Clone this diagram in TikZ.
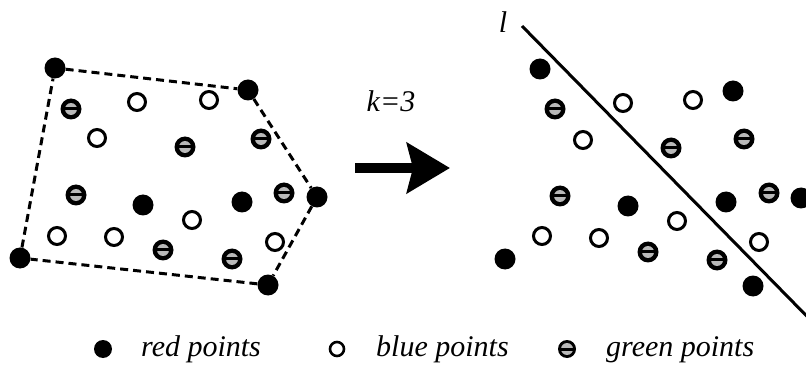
\documentclass[tikz,border=0pt]{standalone}
\usepackage{fontspec}
\setmainfont{Liberation Serif}
\usetikzlibrary{arrows.meta}
\tikzset{
  redpt/.style={circle,fill=black,minimum size=21pt,inner sep=0pt},
  bluept/.style={circle,draw=black,fill=white,line width=3pt,minimum size=17pt,inner sep=0pt},
  greenpt/.style={circle,fill=black,minimum size=21pt,inner sep=0pt,
    path picture={
      \fill[gray!55] (path picture bounding box.center) circle (6pt);
      \fill[black] ([xshift=-7pt,yshift=-1.5pt]path picture bounding box.center)
        rectangle ([xshift=7pt,yshift=1.5pt]path picture bounding box.center);
    }},
  hull/.style={line width=3pt,dash pattern=on 8pt off 5pt},
  sepline/.style={line width=3pt},
  lbl/.style={font=\fontsize{30pt}{32pt}\selectfont\itshape,inner sep=0pt},
}
\begin{document}
\begin{tikzpicture}[x=1pt,y=-1pt]
\useasboundingbox (0,0) rectangle (806,374);
\clip (0,0) rectangle (806,374);
% ---------- left panel ----------
\node[redpt] (A) at (55,68) {};
\node[redpt] (B) at (248,90) {};
\node[redpt] (C) at (317,197) {};
\node[redpt] (D) at (268,285) {};
\node[redpt] (E) at (20,258) {};
\draw[hull] (A) -- (B) -- (C) -- (D) -- (E) -- (A);
\node[redpt] (lr1) at (143,205) {};
\node[redpt] (lr2) at (242,202) {};
\node[bluept] (lb1) at (137,102) {};
\node[bluept] (lb2) at (209,100) {};
\node[bluept] (lb3) at (97,138) {};
\node[bluept] (lb4) at (192,220) {};
\node[bluept] (lb5) at (57,236) {};
\node[bluept] (lb6) at (114,237) {};
\node[bluept] (lb7) at (275,242) {};
\node[greenpt] (lg1) at (71,109) {};
\node[greenpt] (lg2) at (185,147) {};
\node[greenpt] (lg3) at (261,139) {};
\node[greenpt] (lg4) at (76,195) {};
\node[greenpt] (lg5) at (284,193) {};
\node[greenpt] (lg6) at (163,250) {};
\node[greenpt] (lg7) at (232,259) {};
% ---------- arrow ----------
\node[lbl,anchor=base] (k) at (391,112) {k=3};
\coordinate (as) at (355,168);
\coordinate (ae) at (450,168);
\draw[line width=10pt,-{Stealth[length=43pt 0,width=50pt 0,inset=6pt 0]}] (as) -- (ae);
% ---------- right panel ----------
\node[lbl,anchor=base] (l) at (503,33) {l};
\coordinate (ls) at (522,26);
\coordinate (le) at (840,350);
\draw[sepline] (ls) -- (le);
\node[redpt] (rr1) at (540,69) {};
\node[redpt] (rr2) at (733,91) {};
\node[redpt] (rr3) at (801,198) {};
\node[redpt] (rr4) at (726,202) {};
\node[redpt] (rr5) at (628,206) {};
\node[redpt] (rr6) at (505,259) {};
\node[redpt] (rr7) at (753,286) {};
\node[bluept] (rb1) at (623,103) {};
\node[bluept] (rb2) at (693,100) {};
\node[bluept] (rb3) at (583,140) {};
\node[bluept] (rb4) at (677,221) {};
\node[bluept] (rb5) at (542,236) {};
\node[bluept] (rb6) at (599,238) {};
\node[bluept] (rb7) at (759,242) {};
\node[greenpt] (rg1) at (555,109) {};
\node[greenpt] (rg2) at (671,148) {};
\node[greenpt] (rg3) at (744,139) {};
\node[greenpt] (rg4) at (560,196) {};
\node[greenpt] (rg5) at (769,193) {};
\node[greenpt] (rg6) at (648,252) {};
\node[greenpt] (rg7) at (717,260) {};
% ---------- legend ----------
\node[redpt,minimum size=18pt] (kr) at (103,349) {};
\node[lbl,anchor=base west] (tr) at (141,356) {red points};
\node[bluept,minimum size=14pt,line width=2.6pt] (kb) at (337,349) {};
\node[lbl,anchor=base west] (tb) at (376,356) {blue points};
\node[greenpt,minimum size=18pt] (kg) at (567,349) {};
\node[lbl,anchor=base west] (tg) at (606,356) {green points};
\end{tikzpicture}
\end{document}
